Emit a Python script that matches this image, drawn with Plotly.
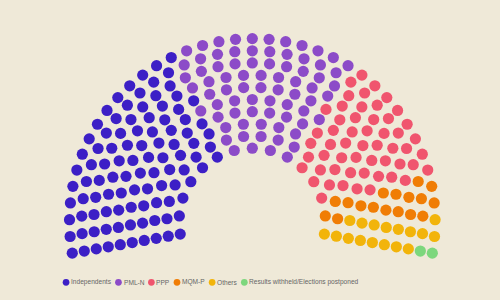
import math
import plotly.graph_objects as go

# ---- data ----
parties = ["Independents", "PML-N", "PPP", "MQM-P", "Others",
           "Results withheld/Elections postponed"]
seats = [101, 75, 54, 17, 17, 2]
colors = ["#3c1fc6", "#8c4bc8", "#f0556e", "#f07d05", "#f2b40a", "#7dd77d"]

# ---- layout constants (pixel units of the 500x300 canvas) ----
W, H = 500, 300
CX, CY = 252.3, 221.4          # centre of the hemicycle
DIAMETER = 377.6
INNER = 122.0
ITEM = 12
START_DEG, END_DEG = -100, 100
# arcs of the hemicycle, innermost first: number of gaps between seats
ROW_GAPS = [14, 17, 19, 22, 24, 27, 29, 32, 34, 38]
DOT = 11.2
BG = "#efe9d8"

# ---- item (parliament) layout ----
deg2rad = math.pi * 2 / 360
a_start = deg2rad * (START_DEG - 90)
a_end = deg2rad * (END_DEG - 90)
full = a_end - a_start
row_count = len(ROW_GAPS)
assert sum(g + 1 for g in ROW_GAPS) == sum(seats)

slots = []
for k, gaps in enumerate(ROW_GAPS, start=1):
    r = (INNER + (k / row_count) * (DIAMETER - INNER - ITEM)) / 2
    inc = full / gaps
    for col in range(gaps + 1):
        a = a_start + col * inc
        slots.append((round(a, 9), r, CX + math.cos(a) * r, CY + math.sin(a) * r))
slots.sort(key=lambda s: (s[0], s[1]))

fig = go.Figure()
i = 0
for name, n, c in zip(parties, seats, colors):
    pts = slots[i:i + n]
    i += n
    fig.add_trace(go.Scatter(
        x=[p[2] for p in pts], y=[p[3] for p in pts], mode="markers",
        name=name, showlegend=False,
        marker=dict(size=DOT, color=c, line=dict(width=0)),
        hovertemplate=name + ": " + str(n) + "<extra></extra>"))

# ---- compact legend ----
ARIAL = {' ': 278, '-': 333, '/': 278, 'E': 667, 'I': 278, 'L': 556, 'M': 833,
         'N': 722, 'O': 778, 'P': 667, 'Q': 778, 'R': 722, 'c': 500, 'd': 556,
         'e': 556, 'h': 556, 'i': 222, 'l': 222, 'n': 556, 'o': 556, 'p': 556,
         'r': 333, 's': 500, 't': 278, 'u': 556, 'w': 722}
LEG_FONT = 6.6
LEG_Y = 282.3
LEG_DOT = 6.7
x = 62.7
lx, ly = [], []
for name, c in zip(parties, colors):
    lx.append(x + LEG_DOT / 2)
    ly.append(LEG_Y)
    tx = x + 8.4
    fig.add_annotation(x=tx, y=LEG_Y, xref="x", yref="y", text=name,
                       showarrow=False, xanchor="left", yanchor="middle",
                       borderpad=0, borderwidth=0,
                       font=dict(size=LEG_FONT, color="#666666",
                                 family="Liberation Sans, Arial, sans-serif"))
    wpx = sum(ARIAL.get(ch, 556) for ch in name) / 1000 * LEG_FONT
    x = tx + wpx + 4
fig.add_trace(go.Scatter(x=lx, y=ly, mode="markers", showlegend=False,
                         hoverinfo="skip",
                         marker=dict(size=LEG_DOT, color=colors, line=dict(width=0))))

fig.update_layout(
    width=W, height=H, margin=dict(l=0, r=0, t=0, b=0),
    paper_bgcolor=BG, plot_bgcolor=BG, showlegend=False,
    xaxis=dict(range=[0, W], visible=False, fixedrange=True),
    yaxis=dict(range=[H, 0], visible=False, fixedrange=True),
)
fig.write_html("out.html", config={"displayModeBar": False})
